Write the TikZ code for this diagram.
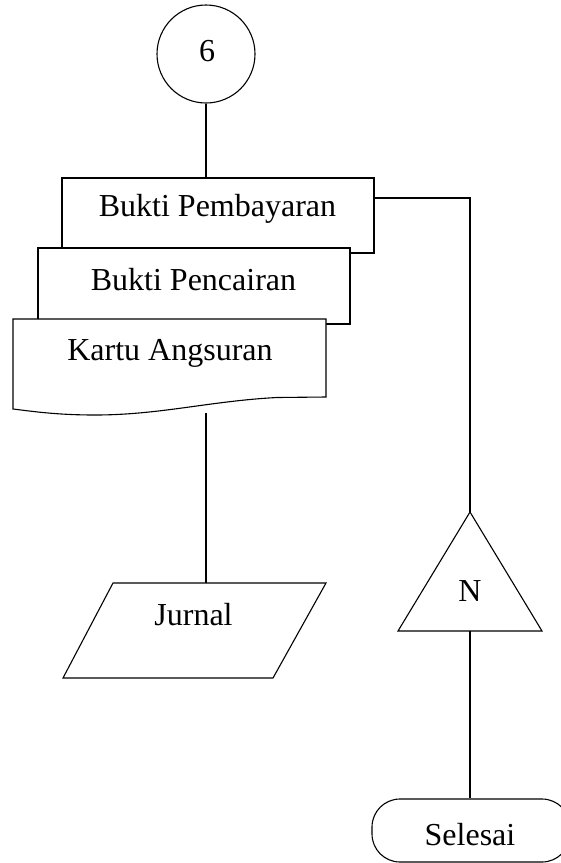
\documentclass[tikz,border=0pt]{standalone}
\usepackage{fontspec}
\setmainfont{Liberation Serif}
\begin{document}
\begin{tikzpicture}[x=1pt,y=-1pt,
  line width=1.1pt,
  every node/.style={inner sep=0pt},
  lbl/.style={anchor=base,font=\fontsize{32}{36}\selectfont},
  docbox/.style={draw,fill=white,rectangle}]
\useasboundingbox (0,0) rectangle (561,863);

% off-page connector
\node[draw,circle,minimum size=98pt] (c6) at (206,54) {};
\node[lbl] (t6) at (207,61) {6};

% stacked documents
\node[docbox,minimum width=312pt,minimum height=75pt] (d1) at (218,215.5) {};
\node[lbl] (t1) at (217.5,216) {Bukti Pembayaran};
\node[docbox,minimum width=312pt,minimum height=76pt] (d2) at (194,286) {};
\node[lbl] (t2) at (193.5,290) {Bukti Pencairan};
\coordinate (d3nw) at (13,319);
\coordinate (d3ne) at (326,319);
\coordinate (d3se) at (326,397);
\coordinate (d3sw) at (13,409);
\coordinate (d3s) at (206,413);
\draw[fill=white] (d3nw) -- (d3ne) -- (d3se) -- (277,397.5)
  .. controls (210,401) and (160,415) .. (95,415)
  .. controls (55,415) and (30,411) .. (d3sw) -- cycle;
\node[lbl] (t3) at (170,360) {Kartu Angsuran};

% journal (parallelogram)
\coordinate (jnw) at (113,583);
\coordinate (jne) at (326,583);
\coordinate (jse) at (273,678);
\coordinate (jsw) at (63,678);
\coordinate (jn) at (206,583);
\draw (jnw) -- (jne) -- (jse) -- (jsw) -- cycle;
\node[lbl] (tj) at (193.5,625) {Jurnal};

% archive (triangle)
\coordinate (ta) at (470,512);
\coordinate (tr) at (542,631);
\coordinate (tl) at (398,631);
\coordinate (tb) at (470,631);
\draw (ta) -- (tr) -- (tl) -- cycle;
\node[lbl] (tn) at (470,601) {N};

% terminator (runs past the right edge)
\node[draw,rounded corners=28pt,minimum width=198pt,minimum height=63pt] (sel) at (471,830.5) {};
\node[lbl] (ts) at (470,845) {Selesai};

% connectors
\draw (c6.south) -- (c6.south |- d1.north);
\draw (d1.east |- 0,198) -- (ta |- 0,198) -- (ta);
\draw (d3s) -- (jn);
\draw (tb) -- (tb |- sel.north);
\end{tikzpicture}
\end{document}
